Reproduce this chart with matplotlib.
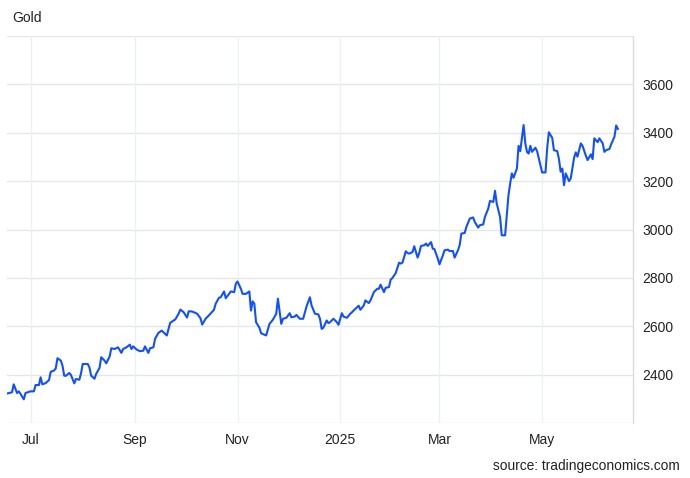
import matplotlib
matplotlib.use('Agg')
import matplotlib.pyplot as plt
import pandas as pd

plt.rcParams['font.family'] = ['Liberation Sans', 'DejaVu Sans']

# dates
dates = [
    '2024-06-17', '2024-06-20', '2024-06-21', '2024-06-23', '2024-06-24', '2024-06-25', '2024-06-27', '2024-06-28',
    '2024-07-01', '2024-07-03', '2024-07-04', '2024-07-06', '2024-07-07', '2024-07-08', '2024-07-10', '2024-07-12',
    '2024-07-13', '2024-07-15', '2024-07-16', '2024-07-17', '2024-07-19', '2024-07-20', '2024-07-21', '2024-07-22',
    '2024-07-24', '2024-07-25', '2024-07-27', '2024-07-28', '2024-07-30', '2024-07-31', '2024-08-01', '2024-08-04',
    '2024-08-05', '2024-08-06', '2024-08-08', '2024-08-09', '2024-08-11', '2024-08-12', '2024-08-14', '2024-08-15',
    '2024-08-17',
    '2024-08-18', '2024-08-20', '2024-08-22', '2024-08-24', '2024-08-25', '2024-08-27', '2024-08-29', '2024-08-30',
    '2024-08-31', '2024-09-02', '2024-09-04', '2024-09-06', '2024-09-07', '2024-09-09', '2024-09-10', '2024-09-12',
    '2024-09-13', '2024-09-15', '2024-09-17', '2024-09-18', '2024-09-20', '2024-09-21', '2024-09-22', '2024-09-24',
    '2024-09-25', '2024-09-27', '2024-09-28', '2024-09-30', '2024-10-02', '2024-10-03', '2024-10-05', '2024-10-08',
    '2024-10-10', '2024-10-11', '2024-10-13', '2024-10-15',
    '2024-10-18', '2024-10-19', '2024-10-21', '2024-10-22', '2024-10-24', '2024-10-25', '2024-10-27', '2024-10-28',
    '2024-10-30', '2024-10-31', '2024-11-01', '2024-11-03', '2024-11-04', '2024-11-06', '2024-11-08', '2024-11-09',
    '2024-11-10', '2024-11-11', '2024-11-12', '2024-11-14', '2024-11-15', '2024-11-18', '2024-11-20', '2024-11-22',
    '2024-11-24', '2024-11-25', '2024-11-27', '2024-11-28', '2024-11-30', '2024-12-02', '2024-12-03', '2024-12-05',
    '2024-12-06', '2024-12-08', '2024-12-10',
    '2024-12-12', '2024-12-14', '2024-12-15', '2024-12-17', '2024-12-19', '2024-12-20', '2024-12-21', '2024-12-22',
    '2024-12-24', '2024-12-25', '2024-12-26', '2024-12-28', '2024-12-30', '2024-12-31', '2025-01-02', '2025-01-03',
    '2025-01-05', '2025-01-07', '2025-01-08', '2025-01-10', '2025-01-12', '2025-01-13', '2025-01-15', '2025-01-16',
    '2025-01-18', '2025-01-19', '2025-01-21', '2025-01-23', '2025-01-24', '2025-01-25', '2025-01-27', '2025-01-28',
    '2025-01-30', '2025-01-31', '2025-02-01', '2025-02-03', '2025-02-05', '2025-02-06', '2025-02-07', '2025-02-09',
    '2025-02-10',
    '2025-02-11', '2025-02-13', '2025-02-14', '2025-02-16', '2025-02-17', '2025-02-18', '2025-02-20', '2025-02-21',
    '2025-02-22', '2025-02-24', '2025-02-25', '2025-02-26', '2025-02-28', '2025-03-01', '2025-03-03', '2025-03-04',
    '2025-03-06', '2025-03-07', '2025-03-09', '2025-03-10', '2025-03-12', '2025-03-13', '2025-03-14', '2025-03-16',
    '2025-03-17', '2025-03-19', '2025-03-21', '2025-03-22', '2025-03-24', '2025-03-25', '2025-03-27', '2025-03-28',
    '2025-03-30', '2025-03-31', '2025-04-02', '2025-04-03', '2025-04-04', '2025-04-06', '2025-04-07', '2025-04-09',
    '2025-04-11', '2025-04-12', '2025-04-13', '2025-04-14', '2025-04-16', '2025-04-17', '2025-04-18', '2025-04-20',
    '2025-04-21', '2025-04-22', '2025-04-23', '2025-04-24', '2025-04-25', '2025-04-27', '2025-04-28', '2025-04-29',
    '2025-05-01', '2025-05-03', '2025-05-04', '2025-05-05', '2025-05-07', '2025-05-08', '2025-05-10', '2025-05-11',
    '2025-05-12', '2025-05-13', '2025-05-14', '2025-05-15', '2025-05-17', '2025-05-18', '2025-05-20', '2025-05-21',
    '2025-05-22', '2025-05-24', '2025-05-25', '2025-05-27', '2025-05-28', '2025-05-30', '2025-05-31', '2025-06-01',
    '2025-06-03', '2025-06-04', '2025-06-06', '2025-06-07', '2025-06-08', '2025-06-10', '2025-06-11', '2025-06-13',
    '2025-06-14', '2025-06-15',
]

# gold price, USD/t.oz
prices = [
    2322, 2327, 2360, 2324, 2331, 2321, 2298, 2324, 2331, 2331, 2357, 2357, 2389, 2360, 2365, 2378,
    2412, 2417, 2426, 2468, 2458, 2437, 2396, 2395, 2407, 2399, 2364, 2382, 2379, 2405, 2444, 2444,
    2430, 2396, 2383, 2403, 2428, 2472, 2458, 2447, 2475,
    2509, 2506, 2513, 2490, 2506, 2513, 2524, 2506, 2517, 2504, 2497, 2499, 2517, 2490, 2509, 2513,
    2548, 2573, 2582, 2575, 2562, 2589, 2614, 2624, 2628, 2652, 2669, 2658, 2636, 2662, 2661, 2652,
    2633, 2607, 2631, 2645,
    2668, 2693, 2718, 2720, 2744, 2716, 2734, 2744, 2741, 2776, 2785, 2755, 2734, 2734, 2744, 2665,
    2703, 2693, 2617, 2594, 2571, 2562, 2610, 2627, 2652, 2714, 2610, 2631, 2635, 2654, 2637, 2640,
    2647, 2631, 2631,
    2682, 2720, 2686, 2652, 2649, 2631, 2589, 2594, 2624, 2613, 2617, 2631, 2617, 2606, 2654, 2640,
    2635, 2652, 2658, 2672, 2685, 2668, 2686, 2707, 2696, 2707, 2741, 2755, 2755, 2772, 2741, 2759,
    2762, 2793, 2799, 2820, 2863, 2859, 2863, 2910, 2903,
    2900, 2907, 2931, 2884, 2903, 2932, 2935, 2942, 2932, 2948, 2921, 2919, 2880, 2856, 2893, 2914,
    2917, 2911, 2911, 2884, 2914, 2935, 2983, 2986, 3011, 3045, 3050, 3031, 3008, 3018, 3021, 3052,
    3087, 3118, 3114, 3160, 3108, 3052, 2976, 2976,
    3142, 3190, 3232, 3214, 3252, 3346, 3324, 3432, 3356, 3321, 3314, 3346, 3321, 3338, 3324, 3294,
    3236, 3236, 3336, 3402, 3379, 3328, 3324, 3291, 3239, 3252, 3183, 3232, 3200, 3211, 3297, 3319,
    3301, 3356, 3346, 3305, 3287, 3311, 3291, 3377, 3361, 3377, 3356, 3321, 3328, 3333, 3352, 3384,
    3430, 3416,
]

y_ticks = [2400, 2600, 2800, 3000, 3200, 3400, 3600]
x_ticks = ['2024-07-01', '2024-09-01', '2024-11-01', '2025-01-01', '2025-03-01', '2025-05-01']
x_labels = ['Jul', 'Sep', 'Nov', '2025', 'Mar', 'May']

x = pd.to_datetime(dates)

fig = plt.figure(figsize=(6.9, 4.78), dpi=100)
ax = fig.add_axes([0.0101, 0.115, 0.9073, 0.8097])

ax.plot(x, prices, color='#1050ff', lw=1.5, solid_joinstyle='round')

ax.set_ylim(2200, 3800)
ax.set_xlim(pd.Timestamp('2024-06-17'), pd.Timestamp('2025-06-24'))

# horizontal grid every 200, labels only on the inner ones
for v in range(2200, 3801, 200):
    ax.axhline(v, color='#e6e6e6', lw=1, zorder=0)
for t in x_ticks:
    ax.axvline(pd.Timestamp(t), color='#eef1f4', lw=1, zorder=0)

ax.yaxis.tick_right()
ax.set_yticks(y_ticks)
ax.set_yticklabels([str(v) for v in y_ticks])
ax.set_xticks(pd.to_datetime(x_ticks))
ax.set_xticklabels(x_labels)
ax.tick_params(axis='both', length=0, labelsize=10, colors='#222222')
ax.tick_params(axis='y', pad=7)
ax.tick_params(axis='x', pad=7)

for s in ['top', 'left', 'bottom']:
    ax.spines[s].set_visible(False)
ax.spines['right'].set_color('#dcdcdc')
ax.spines['right'].set_linewidth(1)

fig.text(12 / 690, 1 - 18 / 478, 'Gold', fontsize=10, color='#222222', va='center', ha='left')
fig.text(680 / 690, 1 - 466 / 478, 'source: tradingeconomics.com', fontsize=9.9,
         color='#222222', va='center', ha='right')

fig.savefig('out.png', dpi=100)
